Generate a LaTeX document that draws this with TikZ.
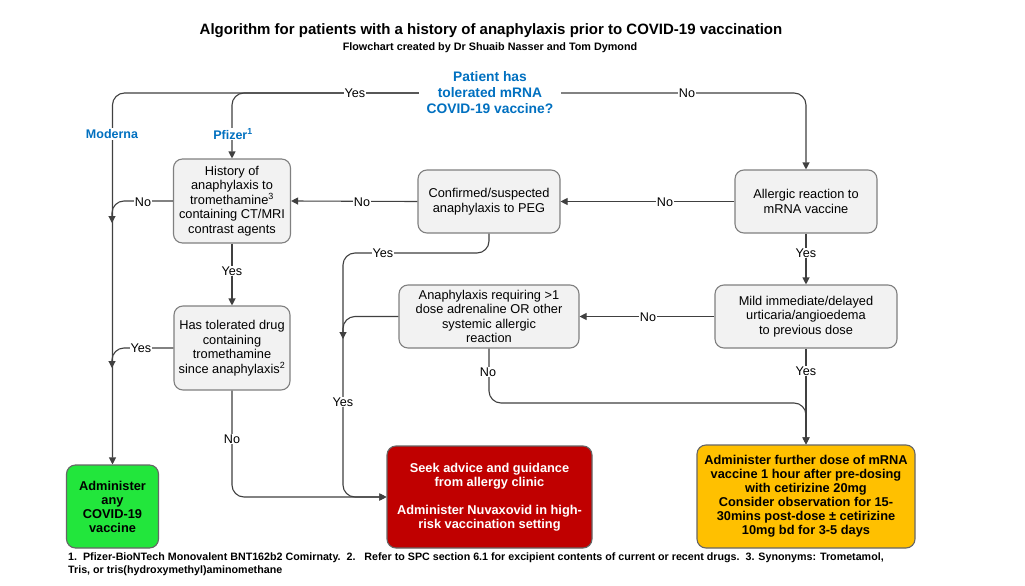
\documentclass[tikz,border=0pt]{standalone}
\usepackage{fontspec}
\setmainfont{Liberation Sans}
\usetikzlibrary{arrows.meta}
\definecolor{qblue}{RGB}{0,112,192}
\definecolor{boxfill}{RGB}{242,242,242}
\definecolor{boxborder}{RGB}{128,128,128}
\definecolor{connc}{RGB}{64,64,64}
\definecolor{gbox}{RGB}{34,230,60}
\definecolor{rbox}{RGB}{192,0,0}
\definecolor{obox}{RGB}{255,192,0}
\begin{document}
\begin{tikzpicture}[x=1pt,y=-1pt,
  box/.style={draw=boxborder, fill=boxfill, rounded corners=9pt, line width=1.1pt, align=center,
    font=\fontsize{12.8}{14.5}\selectfont, inner sep=2pt},
  actbox/.style={box, draw=boxborder!80!black, font=\fontsize{12.8}{14}\selectfont\bfseries},
  conn/.style={draw=connc, line width=1.1pt, rounded corners=12pt},
  arr/.style={conn, -{Triangle[width=7pt,length=7pt]}},
  lab/.style={fill=white, inner sep=1pt, font=\fontsize{12.6}{14}\selectfont},
  blab/.style={fill=white, inner sep=1pt, text=qblue, font=\fontsize{12.5}{14}\selectfont\bfseries},
]
\useasboundingbox[fill=white] (0,0) rectangle (1025,586);

% titles
\node[font=\fontsize{15}{17}\selectfont\bfseries] (title) at (491,31)
  {Algorithm for patients with a history of anaphylaxis prior to COVID-19 vaccination};
\node[font=\fontsize{10.8}{12}\selectfont\bfseries] (sub) at (490,48)
  {Flowchart created by Dr Shuaib Nasser and Tom Dymond};

% question
\node[align=center, text=qblue, font=\fontsize{13.8}{16}\selectfont\bfseries, minimum width=142pt, inner sep=0pt] (q) at (490,93)
  {Patient has\\tolerated mRNA\\COVID-19 vaccine?};

% boxes
\node[box, minimum width=117pt, minimum height=84pt] (hist) at (232,201)
  {History of\\anaphylaxis to\\tromethamine\textsuperscript{3}\\containing CT/MRI\\contrast agents};
\node[box, minimum width=142pt, minimum height=63pt] (peg) at (489,201.5)
  {Confirmed/suspected\\anaphylaxis to PEG};
\node[box, minimum width=142pt, minimum height=63pt] (allergic) at (806,201.5)
  {Allergic reaction to\\mRNA vaccine};
\node[box, minimum width=182pt, minimum height=63pt] (mild) at (806,316.5)
  {Mild immediate/delayed\\urticaria/angioedema\\to previous dose};
\node[box, minimum width=180pt, minimum height=63pt] (anaph) at (489,316.5)
  {Anaphylaxis requiring >1\\dose adrenaline OR other\\systemic allergic\\reaction};
\node[box, minimum width=116pt, minimum height=84pt] (has) at (232,348)
  {Has tolerated drug\\containing\\tromethamine\\since anaphylaxis\textsuperscript{2}};
\node[actbox, fill=gbox, minimum width=92pt, minimum height=83pt] (green) at (112.5,506.5)
  {Administer\\any\\COVID-19\\vaccine};
\node[actbox, fill=rbox, text=white, minimum width=205pt, minimum height=102pt] (red) at (489.5,497)
  {Seek advice and guidance\\from allergy clinic\\[14pt]Administer Nuvaxovid in high-\\risk vaccination setting};
\node[actbox, fill=obox, minimum width=218pt, minimum height=103pt] (orange) at (806,496.5)
  {Administer further dose of mRNA\\vaccine 1 hour after pre-dosing\\with cetirizine 20mg\\Consider observation for 15-\\30mins post-dose ± cetirizine\\10mg bd for 3-5 days};

% junction points on vertical lines
\coordinate (j1) at (112,223);
\coordinate (j2) at (112,368);
\coordinate (j3) at (343,339);

% connectors
\draw[arr] (q.west) -| (green.north);
\draw[arr] (q.west) -| (hist.north);
\draw[arr] (q.east) -| (allergic.north);
\draw[arr] (allergic.west) -- (peg.east);
\draw[arr] (peg.west) -- (hist.east);
\draw[arr] (hist.west) -| (j1);
\draw[arr] (hist.south) -- (has.north);
\draw[arr] (has.west) -| (j2);
\draw[arr] (has.south) |- (red.west);
\draw[arr] (peg.south) -- (489,253) -- (343,253) -- (343,497) -- (red.west);
\draw[arr] (anaph.west) -| (j3);
\draw[arr] (mild.west) -- (anaph.east);
\draw[arr] (allergic.south) -- (mild.north);
\draw[arr] (mild.south) -- (orange.north);
\draw[arr] (anaph.south) -- (489,403) -- (806,403) -- (orange.north);

% labels
\node[lab] (l1) at (355,93) {Yes};
\node[lab] (l2) at (687,93) {No};
\node[blab] (moderna) at (112,134) {Moderna};
\node[blab] (pfizer) at (233,134) {Pfizer\textsuperscript{1}};
\node[lab] (l3) at (665,202) {No};
\node[lab] (l4) at (362,202) {No};
\node[lab] (l5) at (143,202) {No};
\node[lab] (l6) at (232,271) {Yes};
\node[lab] (l7) at (806,253) {Yes};
\node[lab] (l8) at (383,253) {Yes};
\node[lab] (l9) at (648,317) {No};
\node[lab] (l10) at (141,348) {Yes};
\node[lab] (l11) at (806,371) {Yes};
\node[lab] (l12) at (488,372) {No};
\node[lab] (l13) at (343,402) {Yes};
\node[lab] (l14) at (232,439) {No};

% footnote
\node[anchor=north west, align=left, font=\fontsize{10.7}{13}\selectfont\bfseries, inner sep=0pt] (foot) at (68,553)
  {1.\ \ Pfizer-BioNTech Monovalent BNT162b2 Comirnaty.\ \ 2.\ \ \ Refer to SPC section 6.1 for excipient contents of current or recent drugs.\ \ 3. Synonyms: Trometamol,\\Tris, or tris(hydroxymethyl)aminomethane};
\end{tikzpicture}
\end{document}
